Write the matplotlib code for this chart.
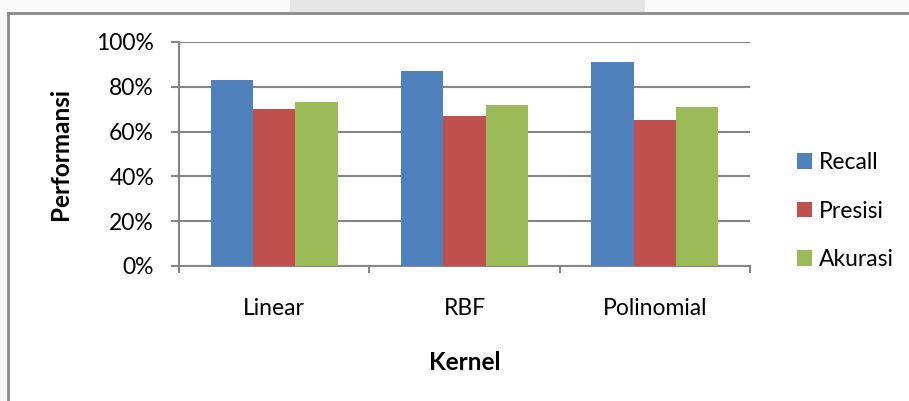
import matplotlib
matplotlib.use("Agg")
import matplotlib.pyplot as plt
from matplotlib.patches import Rectangle
from matplotlib.lines import Line2D
from matplotlib.ticker import FixedLocator, FuncFormatter
import numpy as np

plt.rcParams['font.family'] = ['Lato', 'DejaVu Sans']

kernels = ["Linear", "RBF", "Polinomial"]
series_names = ["Recall", "Presisi", "Akurasi"]
recall = [83, 87, 91]
presisi = [70, 67, 65]
akurasi = [73, 72, 71]
y_ticks = [0, 20, 40, 60, 80, 100]

colors = ["#4F81BD", "#C0504D", "#9BBB59"]
grid_color = "#868686"

W, H = 909, 401
fig = plt.figure(figsize=(W / 100, H / 100), dpi=100)
fig.patch.set_facecolor("white")

# page background strip and frame around the chart
fig.patches.append(Rectangle((0, 1 - 12 / H), 1, 12 / H, transform=fig.transFigure,
                             facecolor="#f9f9f9", edgecolor="none", zorder=0))
fig.patches.append(Rectangle((0, 0), 7 / W, 1, transform=fig.transFigure,
                             facecolor="#f9f9f9", edgecolor="none", zorder=0))
fig.patches.append(Rectangle((290 / W, 1 - 12 / H), 355 / W, 12 / H, transform=fig.transFigure,
                             facecolor="#e6e6e6", edgecolor="none", zorder=0))
fig.lines.append(Line2D([8 / W, 1], [1 - 13 / H, 1 - 13 / H], transform=fig.transFigure,
                        color="#8a8a8a", lw=2))
fig.lines.append(Line2D([8 / W, 8 / W], [0, 1 - 13 / H], transform=fig.transFigure,
                        color="#8a8a8a", lw=2))

ax = fig.add_axes([179 / W, 1 - 266 / H, (750 - 179) / W, (266 - 42) / H])

n = len(kernels)
x = np.arange(n)
bw = 1 / 4.5
for i, (vals, name) in enumerate(zip([recall, presisi, akurasi], series_names)):
    ax.bar(x + (i - 1) * bw, vals, width=bw, color=colors[i], label=name, zorder=3)

ax.set_xlim(-0.5, n - 0.5)
ax.set_ylim(0, 100)

ax.set_yticks(y_ticks)
ax.yaxis.set_major_formatter(FuncFormatter(lambda v, p: f"{int(v)}%"))
ax.grid(axis="y", color=grid_color, lw=1.5, zorder=1)
ax.tick_params(axis="y", length=6, width=1.5, color=grid_color, pad=12,
               labelsize=16.5, labelcolor="black")

ax.xaxis.set_major_locator(FixedLocator(np.arange(-0.5, n, 1.0)))
ax.xaxis.set_minor_locator(FixedLocator(x))
ax.set_xticklabels([])
ax.set_xticklabels(kernels, minor=True)
ax.tick_params(axis="x", which="major", length=5, width=1.5, color=grid_color)
ax.tick_params(axis="x", which="minor", length=0, pad=23, labelsize=16.5)

for s in ["top", "right"]:
    ax.spines[s].set_visible(False)
for s in ["left", "bottom"]:
    ax.spines[s].set_color(grid_color)
    ax.spines[s].set_linewidth(1.5)

fig.text(61 / W, 1 - 154 / H, "Performansi", rotation=90, ha="center", va="center",
         fontsize=17.5, fontweight="bold")
fig.text(465 / W, 1 - 363 / H, "Kernel", ha="center", va="center",
         fontsize=17.5, fontweight="bold")

leg = ax.legend(loc="center left", bbox_to_anchor=(786 / W, 1 - 211 / H),
                bbox_transform=fig.transFigure, frameon=False, fontsize=16.5,
                handlelength=0.65, handleheight=0.65, handletextpad=0.3,
                labelspacing=1.2, borderpad=0)

fig.savefig("out.png", dpi=100)
